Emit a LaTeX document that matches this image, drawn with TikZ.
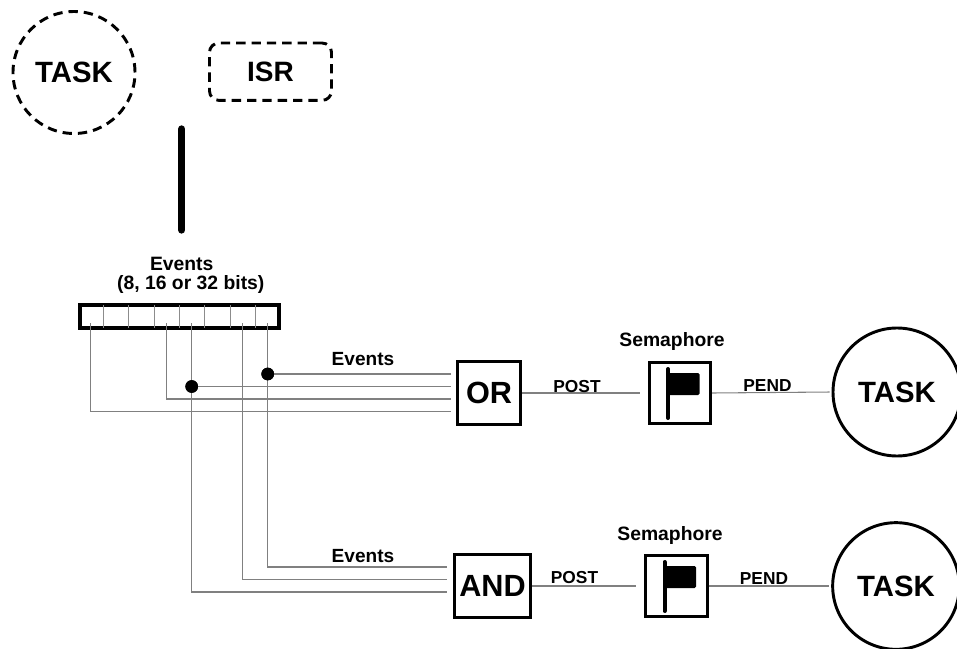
\documentclass[tikz,border=0pt]{standalone}
\usepackage{fontspec}
\setmainfont{Liberation Sans}
\usetikzlibrary{calc}
\begin{document}
\begin{tikzpicture}[x=0.75pt,y=-0.75pt,
  box/.style={draw,line width=2.2pt,inner sep=0pt},
  conn/.style={draw=black!50,line width=0.8pt},
  dashline/.style={draw,line width=2.2pt,dash pattern=on 7pt off 4.5pt},
  lab/.style={font=\fontsize{13}{15}\selectfont\bfseries,anchor=base,inner sep=0pt},
  evlab/.style={font=\fontsize{14.3}{16}\selectfont\bfseries,anchor=base,inner sep=0pt},
  big/.style={font=\fontsize{22}{26}\selectfont\bfseries},
  dot/.style={circle,fill=black,inner sep=0pt,minimum size=9.5pt}
]
\clip (0,0) rectangle (957,649);

% top: dashed task and ISR
\node[circle,dashline,minimum size=91.5pt,inner sep=0pt,big] (tdash) at (74,72.5) {TASK};
\node[dashline,rounded corners=7pt,minimum width=91.5pt,minimum height=43pt,inner sep=0pt,
      font=\fontsize{21}{25}\selectfont\bfseries] (isr) at (270.5,71.7) {ISR};
\coordinate (bartop) at (181.7,129);
\coordinate (barbot) at (181.7,230);
\draw[line width=5.5pt,line cap=round] (bartop) -- (barbot);

% event register
\node[evlab,font=\fontsize{14.5}{16}\selectfont\bfseries] (reglab1) at (181.7,271) {Events};
\node[evlab,font=\fontsize{14.5}{16}\selectfont\bfseries] (reglab2) at (190.8,289.5) {(8, 16 or 32 bits)};
\node[draw,line width=3pt,minimum width=148.8pt,minimum height=17pt,inner sep=0pt] (reg) at (179.5,316.7) {};
\foreach \i in {1,...,7}
  \draw[black!45,line width=0.8pt,shorten <=1.5pt,shorten >=1.5pt]
    ($(reg.north west)!\i/8!(reg.north east)$) -- ($(reg.south west)!\i/8!(reg.south east)$);

\coordinate (c1) at (90.7,323);
\coordinate (c4) at (166.7,323);
\coordinate (c5) at (191.7,323);
\coordinate (c7) at (242.7,323);
\coordinate (c8) at (267.7,323);

% OR row
\node[box,minimum size=47.5pt,font=\fontsize{23}{27}\selectfont\bfseries] (or) at (489,393) {OR};
\coordinate (or1) at (451,374);
\coordinate (or2) at (451,386.5);
\coordinate (or3) at (451,399);
\coordinate (or4) at (451,411.5);

% AND row
\node[box,minimum width=57pt,minimum height=47pt,font=\fontsize{23}{27}\selectfont\bfseries] (and) at (492.5,586) {AND};
\coordinate (and1) at (447,567);
\coordinate (and2) at (447,579.5);
\coordinate (and3) at (447,592);

% wiring
\draw[conn] (c8) |- (and1);
\draw[conn] (c7) |- (and2);
\draw[conn] (c5) |- (and3);
\draw[conn] (c4) |- (or3);
\draw[conn] (c1) |- (or4);
\node[dot] (j8) at (267.7,374) {};
\node[dot] (j5) at (191.7,386.5) {};
\draw[conn] (j8.center) -- (or1);
\draw[conn] (j5.center) -- (or2);
\node[dot] at (j8) {};
\node[dot] at (j5) {};

\node[evlab] (ev1) at (363,365) {Events};
\node[evlab] (ev2) at (363,562) {Events};

% semaphores
\node[box,minimum size=46pt] (sem1) at (680,393) {};
\node[box,minimum size=46pt] (sem2) at (676.5,586) {};
\foreach \s in {sem1,sem2} {
  \fill[rounded corners=1pt] ($(\s)+(-12,-20)$) rectangle ($(\s)+(19.5,2)$);
  \draw[line width=3pt,line cap=round] ($(\s)+(-12,-24)$) -- ($(\s)+(-12,25)$);
}
\node[font=\fontsize{14.5}{16}\selectfont\bfseries,anchor=base,inner sep=0pt] (semlab1) at (672,346) {Semaphore};
\node[font=\fontsize{14.5}{16}\selectfont\bfseries,anchor=base,inner sep=0pt] (semlab2) at (670,540) {Semaphore};

% tasks
\node[circle,draw,line width=2.2pt,minimum size=96pt,inner sep=0pt,big] (task1) at (897,392) {TASK};
\node[circle,draw,line width=2.2pt,minimum size=95pt,inner sep=0pt,big] (task2) at (896,586) {TASK};

% post / pend
\draw[conn,shorten >=6pt] (or.east) -- (sem1.west);
\draw[conn,shorten >=6pt] (and.east) -- (sem2.west);
\draw[conn,shorten >=1.5pt] (sem1.east) -- (task1.west);
\draw[conn,shorten >=1.5pt] (sem2.east) -- (task2.west);
\node[lab] (post1) at (577,392) {POST};
\node[lab] (post2) at (574.5,583) {POST};
\node[lab] (pend1) at (767.5,391.5) {PEND};
\node[lab] (pend2) at (764,584) {PEND};
\end{tikzpicture}
\end{document}
